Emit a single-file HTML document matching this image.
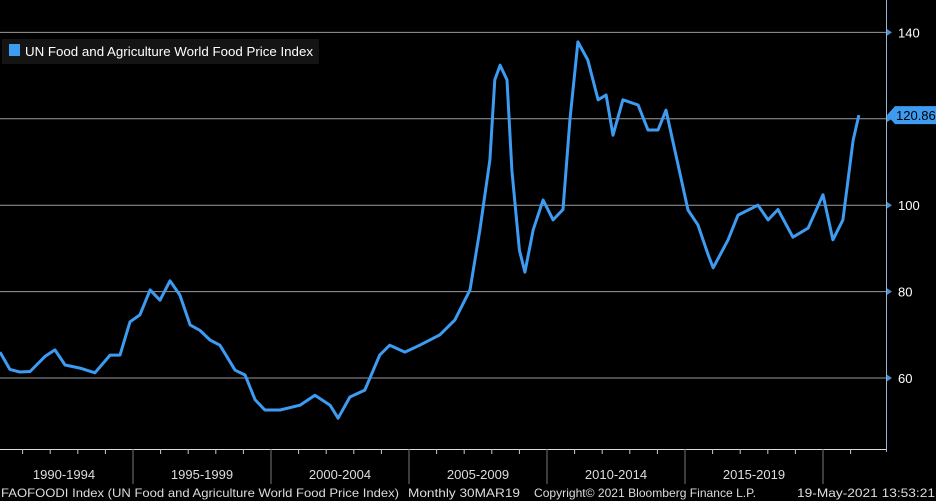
<!DOCTYPE html>
<html><head><meta charset="utf-8"><style>
body{margin:0;background:#000;width:936px;height:501px;overflow:hidden;font-family:"Liberation Sans",sans-serif}
svg{display:block}
</style></head><body>
<svg width="936" height="501">
<g id="grid"></g>
<g id="xaxis"></g>
<g id="yaxis"></g>
<g id="series"></g>
<g>
<rect x="2" y="39" width="317" height="25" fill="#141414"/>
<rect x="9" y="44" width="11" height="12" fill="#3d9bf2"/>
<text x="25" y="56" fill="#fff" font-size="13" textLength="288" lengthAdjust="spacingAndGlyphs">UN Food and Agriculture World Food Price Index</text>
</g>
<g font-size="12" fill="#ddd">
<text x="1" y="497" textLength="398" lengthAdjust="spacingAndGlyphs">FAOFOODI Index (UN Food and Agriculture World Food Price Index)</text>
<text x="408" y="497" textLength="112" lengthAdjust="spacingAndGlyphs">Monthly 30MAR19</text>
<text x="534" y="497" textLength="222" lengthAdjust="spacingAndGlyphs">Copyright© 2021 Bloomberg Finance L.P.</text>
<text x="797" y="497" textLength="138" lengthAdjust="spacingAndGlyphs">19-May-2021 13:53:21</text>
</g>
</svg>
<script>
const years=[1990.18,1990.54,1990.9,1991.27,1991.81,1992.17,1992.54,1993.08,1993.62,1994.17,1994.53,1994.89,1995.25,1995.62,1995.98,1996.34,1996.7,1997.07,1997.43,1997.79,1998.15,1998.7,1999.06,1999.42,1999.78,2000.33,2001.05,2001.59,2002.14,2002.43,2002.86,2003.4,2003.94,2004.3,2004.85,2005.39,2006.12,2006.66,2007.21,2007.57,2007.93,2008.11,2008.3,2008.55,2008.73,2009.0,2009.2,2009.5,2009.86,2010.22,2010.58,2010.83,2011.12,2011.48,2011.85,2012.14,2012.39,2012.75,2013.3,2013.66,2014.02,2014.31,2014.75,2015.11,2015.47,2015.84,2016.02,2016.56,2016.92,2017.64,2018.01,2018.37,2018.91,2019.46,2020.0,2020.36,2020.72,2021.09,2021.3];
const values=[66,62,61.4,61.5,65,66.5,63,62.3,61.2,65.3,65.3,73,74.6,80.4,78,82.5,79.2,72.3,71,68.8,67.6,61.8,60.7,55,52.6,52.6,53.7,56,53.7,50.7,55.6,57.2,65.3,67.6,66,67.6,70,73.4,80.4,94.3,110.5,129,132.4,129,108,89.6,84.5,94.3,101.2,96.6,99,119.7,137.8,133.6,124.4,125.5,116.2,124.4,123.2,117.4,117.4,122,109.3,98.9,95.4,88.5,85.5,92,97.7,100,96.6,99,92.6,94.7,102.4,92,96.6,115,120.86];
const yTicks=[60,80,100,120,140];
const periods=["1990-1994","1995-1999","2000-2004","2005-2009","2010-2014","2015-2019"];
const NS="http://www.w3.org/2000/svg";
const X=t=>-5+(t-1990)*27.6;
const Y=v=>378-(v-60)*4.32;
function mk(tag,a,p){const e=document.createElementNS(NS,tag);for(const k in a)e.setAttribute(k,a[k]);p.appendChild(e);return e;}
const grid=document.getElementById('grid'),ya=document.getElementById('yaxis'),xa=document.getElementById('xaxis');
yTicks.forEach(v=>{
 const l=mk('line',{x1:0,x2:886,y1:Y(v),y2:Y(v),stroke:'#9a9a9a','stroke-width':1},grid);
 
 
 mk('path',{d:`M886 ${Y(v)-4}L892 ${Y(v)}L886 ${Y(v)+4}Z`,fill:'#4a8fd0'},ya);
 const t=mk('text',{x:898,y:Y(v)+5,fill:'#fff','font-size':13},ya);
 t.textContent=v;
 
 
});
mk('line',{x1:886.5,x2:886.5,y1:0,y2:452,stroke:'#8fb8dd','stroke-width':1},ya);
mk('line',{x1:0,x2:887,y1:449.5,y2:449.5,stroke:'#ddd','stroke-width':1},xa);
for(let y=1990;y<=2021;y++){mk('line',{x1:X(y),x2:X(y),y1:449,y2:454,stroke:'#ccc'},xa);}
periods.forEach((p,i)=>{
 const s=1990+5*i;
 mk('line',{x1:X(s+5),x2:X(s+5),y1:449,y2:484,stroke:'#777'},xa);
 const t=mk('text',{x:X(s+2.5),y:479,fill:'#ddd','font-size':13,'text-anchor':'middle'},xa);
 t.textContent=p;
 
 
});
const ser=document.getElementById('series');
const d=years.map((t,i)=>(i?'L':'M')+X(t).toFixed(1)+' '+Y(values[i]).toFixed(1)).join('');
const path=mk('path',{d:d,fill:'none',stroke:'#3d9bf2','stroke-width':3,'stroke-linejoin':'round'},ser);


const lv=values[values.length-1],ly=Y(lv);
const lab=mk('path',{d:`M887 ${ly}L895 ${ly-9}H936V${ly+9}H895Z`,fill:'#3d9bf2'},ser);


const lt=mk('text',{x:896,y:ly+5,fill:'#000','font-size':13},ser);
lt.textContent=lv.toFixed(2);


</script>
</body></html>
